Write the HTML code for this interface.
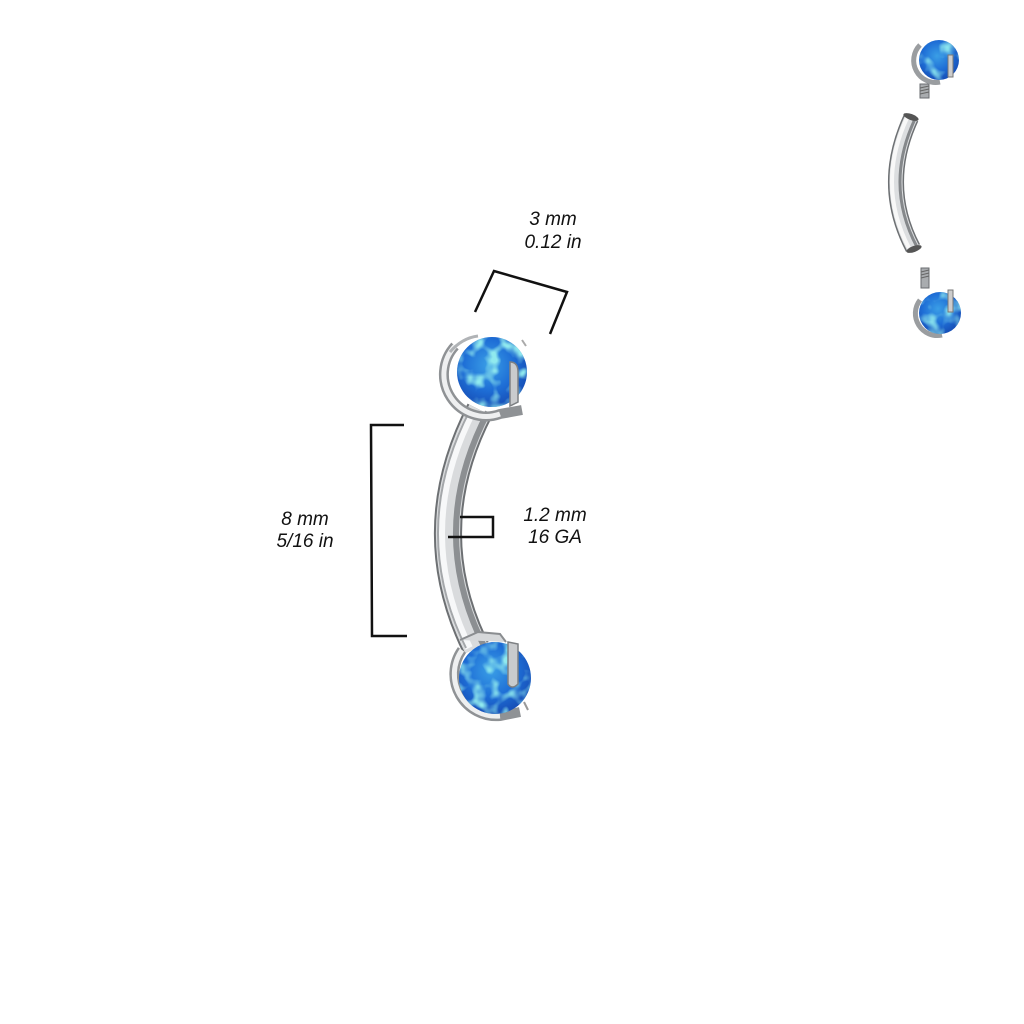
<!DOCTYPE html>
<html><head><meta charset="utf-8"><style>
html,body{margin:0;padding:0;background:#fff;}
svg{display:block;}
text{font-family:"Liberation Sans",sans-serif;font-style:italic;font-size:19px;fill:#111;}
</style></head><body>
<svg width="1024" height="1024" viewBox="0 0 1024 1024" xmlns="http://www.w3.org/2000/svg">
<defs>
<radialGradient id="opal" cx="45%" cy="40%" r="60%">
<stop offset="0" stop-color="#3a9ee6"/>
<stop offset="0.6" stop-color="#1e6ed6"/>
<stop offset="1" stop-color="#1750b8"/>
</radialGradient>
<filter id="mottle" x="0" y="0" width="100%" height="100%">
<feTurbulence type="fractalNoise" baseFrequency="0.07" numOctaves="2" seed="5" result="n"/>
<feColorMatrix in="n" type="matrix" values="0 0 0 0 0.28  0 0 0 0 0.82  0 0 0 0 0.86  0 0 0 -3.4 1.8" result="c"/>
<feComposite in="c" in2="SourceGraphic" operator="in"/>
</filter>
</defs>

<!-- main bar -->
<path d="M480 410 Q418 530 476 648" fill="none" stroke="#6d7073" stroke-width="28"/>
<path d="M480 410 Q418 530 476 648" fill="none" stroke="#d9dbdd" stroke-width="24"/>
<path d="M473 410 Q411 530 469 648" fill="none" stroke="#f7f8f9" stroke-width="8"/>
<path d="M488 412 Q426 530 484 646" fill="none" stroke="#8c8f92" stroke-width="6"/>
<path d="M470 410 Q408 530 466 648" fill="none" stroke="#a4a7aa" stroke-width="2"/>

<!-- top gem -->
<g>
<path d="M455 346 A42 42 0 0 0 500 414 L522 410" fill="none" stroke="#8f9295" stroke-width="10"/>
<path d="M455 346 A42 42 0 0 0 500 414" fill="none" stroke="#eeeff0" stroke-width="5"/>
<path d="M450 352 Q462 338 478 336" fill="none" stroke="#b0b3b6" stroke-width="3"/>
<circle cx="492" cy="372" r="35" fill="url(#opal)"/>
<circle cx="492" cy="372" r="35" fill="#fff" filter="url(#mottle)"/>
<path d="M510 362 Q518 362 518 372 L518 402 L510 406 Z" fill="#c9cbcd" stroke="#7d8083" stroke-width="1.5"/>
<path d="M522 340 L526 346" stroke="#aaa" stroke-width="2"/>
</g>

<!-- bottom gem -->
<g>
<path d="M462 650 A42 42 0 0 0 500 716 L520 712" fill="none" stroke="#8f9295" stroke-width="10"/>
<path d="M462 650 A42 42 0 0 0 500 716" fill="none" stroke="#eeeff0" stroke-width="5"/>
<path d="M460 640 L478 632 L500 634 L506 642" fill="#d6d8da" stroke="#8a8d90" stroke-width="2"/>
<circle cx="495" cy="678" r="36" fill="url(#opal)"/>
<circle cx="495" cy="678" r="36" fill="#fff" filter="url(#mottle)"/>
<path d="M508 642 L518 644 L518 684 Q512 690 508 684 Z" fill="#c9cbcd" stroke="#7d8083" stroke-width="1.5"/>
<path d="M524 702 L528 710" stroke="#999" stroke-width="2"/>
</g>

<!-- dimension lines -->
<g fill="none" stroke="#111" stroke-width="2.5" stroke-linejoin="miter">
<polyline points="475,312 494,271 567,292 550,334"/>
<polyline points="404,425 371,425 372,636 407,636"/>
<polyline points="460,517 493,517 493,537 448,537"/>
</g>

<text x="553" y="225" text-anchor="middle">3 mm</text>
<text x="553" y="248" text-anchor="middle">0.12 in</text>
<text x="305" y="525" text-anchor="middle">8 mm</text>
<text x="305" y="547" text-anchor="middle">5/16 in</text>
<text x="555" y="521" text-anchor="middle">1.2 mm</text>
<text x="555" y="543" text-anchor="middle">16 GA</text>

<!-- small exploded view -->
<rect x="920" y="84" width="9" height="14" fill="#a9acaf" stroke="#6a6d70" stroke-width="1"/>
<path d="M920 88 L929 86 M920 91 L929 89 M920 94 L929 92" stroke="#666" stroke-width="1"/>
<path d="M920 45 A22 22 0 0 0 940 82" fill="none" stroke="#9a9da0" stroke-width="5"/>
<circle cx="939" cy="60" r="20" fill="url(#opal)"/>
<circle cx="939" cy="60" r="20" fill="#fff" filter="url(#mottle)"/>
<rect x="948" y="55" width="5" height="22" fill="#ccc" stroke="#777" stroke-width="1"/>

<path d="M911 118 Q880 185 913 248" fill="none" stroke="#6d7073" stroke-width="16"/>
<path d="M911 118 Q880 185 913 248" fill="none" stroke="#dcdee0" stroke-width="13"/>
<path d="M907 118 Q876 185 909 248" fill="none" stroke="#f8f8f8" stroke-width="4"/>
<path d="M915 119 Q884 185 917 247" fill="none" stroke="#85888b" stroke-width="3"/>
<ellipse cx="911" cy="117" rx="8" ry="3" fill="#555" transform="rotate(20 911 117)"/>
<ellipse cx="914" cy="249" rx="8" ry="3" fill="#555" transform="rotate(-20 914 249)"/>

<rect x="921" y="268" width="8" height="20" fill="#a9acaf" stroke="#6a6d70" stroke-width="1"/>
<path d="M921 272 L929 270 M921 275 L929 273 M921 278 L929 276" stroke="#666" stroke-width="1"/>
<path d="M920 300 A22 22 0 0 0 942 335" fill="none" stroke="#9a9da0" stroke-width="5"/>
<circle cx="940" cy="313" r="21" fill="url(#opal)"/>
<circle cx="940" cy="313" r="21" fill="#fff" filter="url(#mottle)"/>
<rect x="948" y="290" width="5" height="22" fill="#ccc" stroke="#777" stroke-width="1"/>
</svg>
</body></html>
